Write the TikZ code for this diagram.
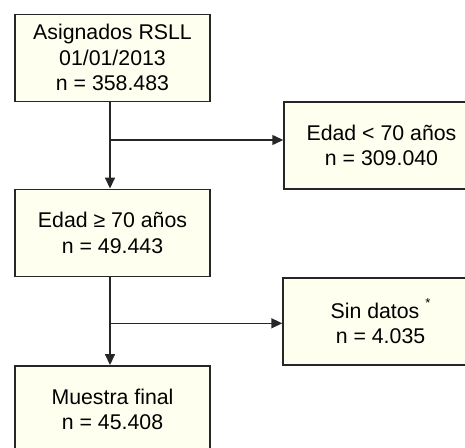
\documentclass[tikz,border=0pt]{standalone}
\usepackage{fontspec}
\setmainfont{Liberation Sans}
\usetikzlibrary{arrows.meta}
\definecolor{boxfill}{RGB}{255,255,240}
\tikzset{
  flowbox/.style={draw=black!85, line width=1.5pt, fill=boxfill, minimum width=195pt, minimum height=87pt, inner sep=0pt, align=center, font=\fontsize{21.3}{25.5}\selectfont, text=black},
  flowarrow/.style={draw=black!85, line width=1.5pt, -{Triangle[length=11pt,width=10pt]}},
  flowline/.style={draw=black!85, line width=1.5pt}
}
\begin{document}
\begin{tikzpicture}[x=1pt,y=1pt]
\useasboundingbox (0,0) rectangle (465,-447);
\node[flowbox] (b1) at (112.5,-57.8) {Asignados RSLL\\01/01/2013\\n = 358.483};
\node[flowbox] (b2) at (381.5,-145.5) {Edad < 70 años\\n = 309.040};
\node[flowbox] (b3) at (112.5,-232.8) {Edad ≥ 70 años\\n = 49.443};
\node[flowbox] (b4) at (380.5,-321.3) {Sin datos \raisebox{0.5em}{\fontsize{13}{13}\selectfont *}\\n = 4.035};
\node[flowbox] (b5) at (112.5,-409.3) {Muestra final\\n = 45.408};
\coordinate (s1) at (110,-101.7);
\coordinate (j1) at (110,-140);
\coordinate (s3) at (110,-276.7);
\coordinate (j2) at (110,-323.3);
\draw[flowarrow] (s1) -- (s1 |- b3.north);
\draw[flowarrow] (j1) -- (j1 -| b2.west);
\draw[flowarrow] (s3) -- (s3 |- b5.north);
\draw[flowarrow] (j2) -- (j2 -| b4.west);
\end{tikzpicture}
\end{document}
